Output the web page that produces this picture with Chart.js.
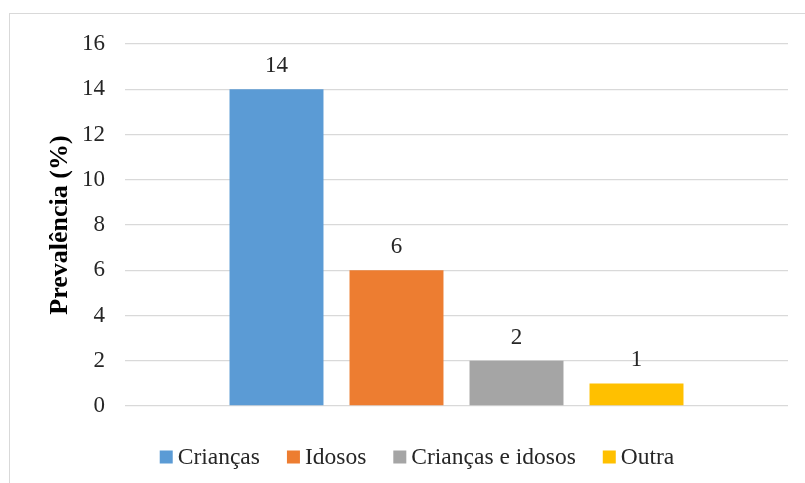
<!DOCTYPE html>
<html>
<head>
<meta charset="utf-8">
<script src="https://cdn.jsdelivr.net/npm/chart.js@4"></script>
<style>
  html, body { margin: 0; padding: 0; background: #fff; overflow: hidden; }
  #frame {
    position: absolute; left: 9px; top: 13px;
    width: 830px; height: 500px;
    border: 1px solid #d9d9d9;
  }
  #chart { position: absolute; left: 0; top: 0; }
</style>
</head>
<body>
<div id="frame"></div>
<canvas id="chart" width="805" height="483"></canvas>
<script>
// grupos e prevalências
const seriesNames = ['Crianças', 'Idosos', 'Crianças e idosos', 'Outra'];
const seriesValues = [14, 6, 2, 1];
const seriesColors = ['#5b9bd5', '#ed7d31', '#a5a5a5', '#ffc000'];
const yTicks = [0, 2, 4, 6, 8, 10, 12, 14, 16];

const serif = '"Liberation Serif", "Times New Roman", serif';
const textColor = '#262626';

// escreve o valor por cima de cada barra
const valueLabels = {
  id: 'valueLabels',
  afterDatasetsDraw(chart) {
    const ctx = chart.ctx;
    ctx.save();
    ctx.font = '23px ' + serif;
    ctx.fillStyle = textColor;
    ctx.textAlign = 'center';
    ctx.textBaseline = 'alphabetic';
    chart.data.datasets.forEach((ds, i) => {
      const meta = chart.getDatasetMeta(i);
      meta.data.forEach((bar, j) => {
        ctx.fillText(String(ds.data[j]), bar.x, bar.y - 17);
      });
    });
    ctx.restore();
  }
};

// legenda em baixo, com o quadrado colado ao texto
const bottomLegend = {
  id: 'bottomLegend',
  afterDraw(chart) {
    const ctx = chart.ctx;
    const box = 13, gapText = 5, gapItem = 27;
    const cx = 417, cy = 457;
    ctx.save();
    ctx.font = '23.5px ' + serif;
    const items = chart.data.datasets.map(ds => ({
      text: ds.label, color: ds.backgroundColor,
      w: box + gapText + ctx.measureText(ds.label).width
    }));
    const total = items.reduce((s, it) => s + it.w, 0) + gapItem * (items.length - 1);
    let x = cx - total / 2;
    ctx.textBaseline = 'middle';
    ctx.textAlign = 'left';
    items.forEach(it => {
      ctx.fillStyle = it.color;
      ctx.fillRect(x, cy - box / 2, box, box);
      ctx.fillStyle = textColor;
      ctx.fillText(it.text, x + box + gapText, cy + 1);
      x += it.w + gapItem;
    });
    ctx.restore();
  }
};

new Chart(document.getElementById('chart'), {
  type: 'bar',
  data: {
    labels: [''],
    datasets: seriesNames.map((name, i) => ({
      label: name,
      data: [seriesValues[i]],
      backgroundColor: seriesColors[i],
      borderWidth: 0
    }))
  },
  options: {
    responsive: false,
    animation: false,
    devicePixelRatio: 1,
    categoryPercentage: 0.724,
    barPercentage: 0.783,
    layout: { padding: { left: 45, right: 17, top: 44, bottom: 69 } },
    plugins: {
      legend: { display: false },
      tooltip: { enabled: false }
    },
    scales: {
      x: {
        grid: { display: false },
        border: { display: false },
        ticks: { display: false }
      },
      y: {
        min: 0,
        max: 16,
        afterBuildTicks(scale) {
          scale.ticks = yTicks.map(v => ({ value: v }));
        },
        afterFit(scale) { scale.width = 80; },
        grid: { color: '#d9d9d9', lineWidth: 1.3, drawTicks: false },
        border: { display: false },
        ticks: {
          font: { family: serif, size: 23 },
          color: textColor,
          padding: 20
        },
        title: {
          display: true,
          text: 'Prevalência (%)',
          font: { family: serif, size: 26, weight: 'bold' },
          color: '#000',
          padding: { top: 0, bottom: 0 }
        }
      }
    }
  },
  plugins: [valueLabels, bottomLegend]
});
</script>
</body>
</html>
